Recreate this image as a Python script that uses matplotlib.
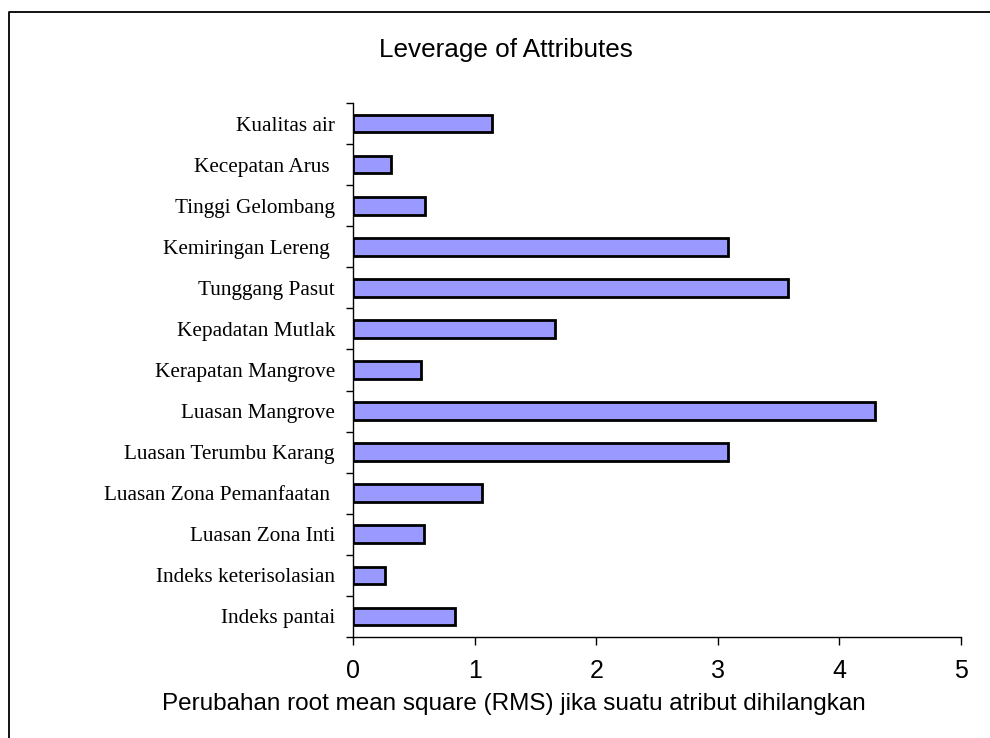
import matplotlib
matplotlib.use("Agg")
import matplotlib.pyplot as plt
from matplotlib.lines import Line2D

categories = ["Kualitas air", "Kecepatan Arus ", "Tinggi Gelombang", "Kemiringan Lereng ",
              "Tunggang Pasut", "Kepadatan Mutlak", "Kerapatan Mangrove", "Luasan Mangrove",
              "Luasan Terumbu Karang", "Luasan Zona Pemanfaatan ", "Luasan Zona Inti",
              "Indeks keterisolasian", "Indeks pantai"]
values = [1.14, 0.31, 0.59, 3.08, 3.58, 1.66, 0.56, 4.29, 3.08, 1.06, 0.58, 0.26, 0.84]
xticks = [0, 1, 2, 3, 4, 5]

W, H = 990, 738
fig = plt.figure(figsize=(9.9, 7.38), dpi=100)
ax = fig.add_axes([353/W, 1-637/H, (961-353)/W, (637-103)/H])

n = len(categories)
ypos = [n - 1 - i for i in range(n)]
ax.barh(ypos, values, height=0.43, color="#9999FF", edgecolor="black", linewidth=2.0, zorder=3)

ax.set_xlim(0, 5)
ax.set_ylim(-0.5, n - 0.5)
ax.set_xticks(xticks)
ax.set_xticklabels([str(t) for t in xticks], fontsize=18, family="Liberation Sans")
ax.set_yticks(ypos)
ax.set_yticklabels(categories, fontsize=15.3, family="Liberation Serif")
ax.tick_params(axis="y", length=0, pad=13)
ax.set_yticks([i - 0.5 for i in range(n + 1)], minor=True)
ax.tick_params(axis="y", which="minor", length=5, width=1)
ax.tick_params(axis="x", length=5.5, width=1, pad=10)

for s in ["top", "right"]:
    ax.spines[s].set_visible(False)
ax.spines["left"].set_linewidth(1)
ax.spines["bottom"].set_linewidth(1)

fig.text(513.5/W, 1-710/H, "Perubahan root mean square (RMS) jika suatu atribut dihilangkan",
         ha="center", va="baseline", fontsize=17.5, family="Liberation Sans")
fig.text(505.5/W, 1-57.3/H, "Leverage of Attributes", ha="center", va="baseline",
         fontsize=18.8, family="Liberation Sans")

fx = 9/W
fy = 1 - 12/H
fig.add_artist(Line2D([fx, fx, 1.0], [0.0, fy, fy], transform=fig.transFigure,
                      color="black", linewidth=1.3))

fig.savefig("out.png", dpi=100)
